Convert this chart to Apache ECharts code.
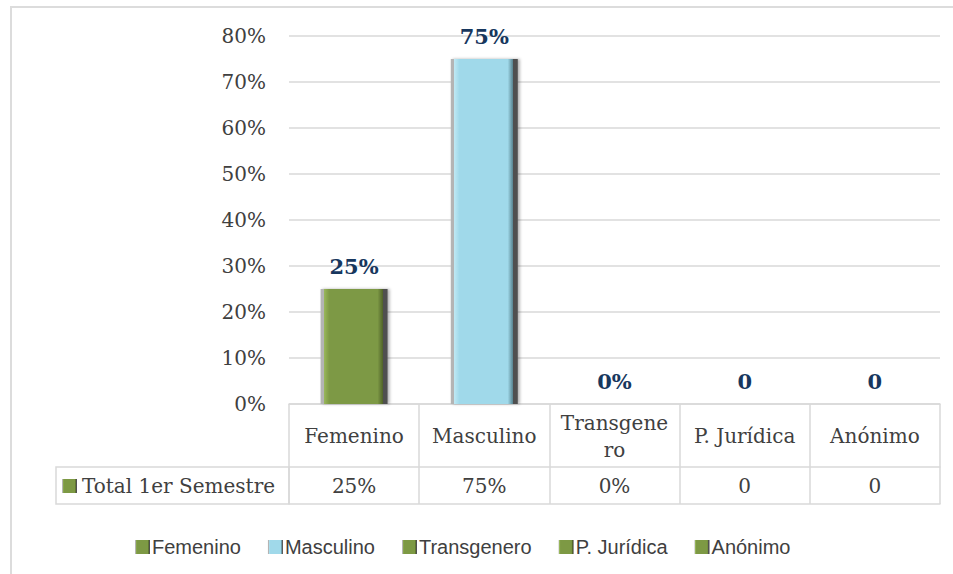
<!DOCTYPE html>
<html>
<head>
<meta charset="utf-8">
<script src="https://cdn.jsdelivr.net/npm/echarts@6/dist/echarts.min.js"></script>
<style>
html,body{margin:0;padding:0;background:#fff;}
#c{width:953px;height:574px;}
</style>
</head>
<body>
<div id="c"></div>
<script>
const categories = ['Femenino', 'Masculino', 'Transgenero', 'P. Jurídica', 'Anónimo'];
const values = [25, 75, 0, 0, 0];
const valueLabels = ['25%', '75%', '0%', '0', '0'];
const rowName = 'Total 1er Semestre';
const yMin = 0, yMax = 80, yInterval = 10;

const palette = [
  {base:'#7d9944', light:'#9ab85c', dark:'#4f6228'},
  {base:'#a0d9ea', light:'#bfe8f3', dark:'#55808c'},
  {base:'#7d9944', light:'#9ab85c', dark:'#4f6228'},
  {base:'#7d9944', light:'#9ab85c', dark:'#4f6228'},
  {base:'#7d9944', light:'#9ab85c', dark:'#4f6228'}
];
function grad(p){
  return new echarts.graphic.LinearGradient(0,0,1,0,[
    {offset:0, color:'#b4b4b4'},
    {offset:0.05, color:'#b4b4b4'},
    {offset:0.05, color:p.light},
    {offset:0.13, color:p.base},
    {offset:0.85, color:p.base},
    {offset:0.93, color:p.dark},
    {offset:0.93, color:'#505050'},
    {offset:1, color:'#505050'}
  ]);
}
// wrap single long words the way the cell does (9 chars per line)
function wrapCell(v){
  return (v.indexOf(' ') < 0 && v.length > 10) ? v.slice(0, 9) + '\n' + v.slice(9) : v;
}
const serif = 'DejaVu Serif';
const lineCol = '#d9d9d9';
const textCol = '#404040';

const chart = echarts.init(document.getElementById('c'), null, {renderer:'svg'});
const option = {
  animation:false,
  backgroundColor:'#fff',
  grid:{left:289, right:13, top:36, bottom:170},
  xAxis:[
    {type:'category', data:categories, position:'bottom',
     axisLine:{show:true, lineStyle:{color:lineCol, width:1.5}},
     axisTick:{show:true, interval:0, length:63, lineStyle:{color:lineCol, width:1.5}},
     axisLabel:{interval:0, margin:32, verticalAlign:'middle', lineHeight:27,
       fontFamily:serif, fontSize:20, color:textCol, formatter:wrapCell},
     splitLine:{show:false}},
    {type:'category', data:categories, position:'bottom', offset:63,
     axisLine:{show:true, lineStyle:{color:lineCol, width:1.5}},
     axisTick:{show:true, interval:0, length:37, lineStyle:{color:lineCol, width:1.5}},
     axisLabel:{interval:0, margin:19, verticalAlign:'middle',
       fontFamily:serif, fontSize:20, color:textCol,
       formatter:function(v, i){ return valueLabels[i]; }},
     splitLine:{show:false}},
    {type:'category', data:categories, position:'bottom', offset:100,
     axisLine:{show:true, lineStyle:{color:lineCol, width:1.5}},
     axisTick:{show:false}, axisLabel:{show:false}, splitLine:{show:false}}
  ],
  yAxis:{type:'value', min:yMin, max:yMax, interval:yInterval,
    axisLine:{show:false}, axisTick:{show:false},
    axisLabel:{margin:23, fontFamily:serif, fontSize:20, color:textCol,
      formatter:function(v){ return v + '%'; }},
    splitLine:{lineStyle:{color:lineCol, width:1.5}}},
  legend:{left:130, top:532, icon:'rect', itemWidth:15, itemHeight:14, itemGap:27,
    textStyle:{fontFamily:'Liberation Sans', fontSize:20, color:textCol, padding:[0,0,0,-3]},
    data:categories},
  series: categories.map(function(c, i){
    return {
      name:c, type:'bar', xAxisIndex:0, barWidth:67, barGap:'-100%',
      data: values.map(function(v, j){ return j === i ? v : '-'; }),
      itemStyle:{color:grad(palette[i]), shadowColor:'rgba(0,0,0,0.3)', shadowBlur:3, shadowOffsetX:2},
      label:{show:true, position:'top', distance:12, fontFamily:serif, fontWeight:'bold',
        fontSize:21, color:'#17375e',
        formatter:function(){ return valueLabels[i]; }}
    };
  })
};
chart.setOption(option);

// table row header cell, positioned from the axes
const yBase = chart.convertToPixel({yAxisIndex:0}, yMin);
const x0 = chart.convertToPixel({xAxisIndex:0}, categories[0]);
const x1 = chart.convertToPixel({xAxisIndex:0}, categories[1]);
const gridLeft = x0 - (x1 - x0) / 2;
const cellLeft = 56;
chart.setOption({
  graphic:[
    {type:'rect', silent:true, shape:{x:11, y:7, width:1000, height:700},
     style:{fill:'none', stroke:'#dcdcdc', lineWidth:2}},
    {type:'rect', silent:true, shape:{x:cellLeft, y:yBase+63, width:gridLeft-cellLeft, height:37},
     style:{fill:'none', stroke:lineCol, lineWidth:1.5}},
    {type:'rect', silent:true, shape:{x:cellLeft+6, y:yBase+63+12, width:15, height:14},
     style:{fill:grad(palette[0])}},
    {type:'text', silent:true, x:cellLeft+26, y:yBase+63+19,
     style:{text:rowName, font:'20px "DejaVu Serif"', fill:textCol, verticalAlign:'middle', align:'left'}}
  ]
});
</script>
</body>
</html>
